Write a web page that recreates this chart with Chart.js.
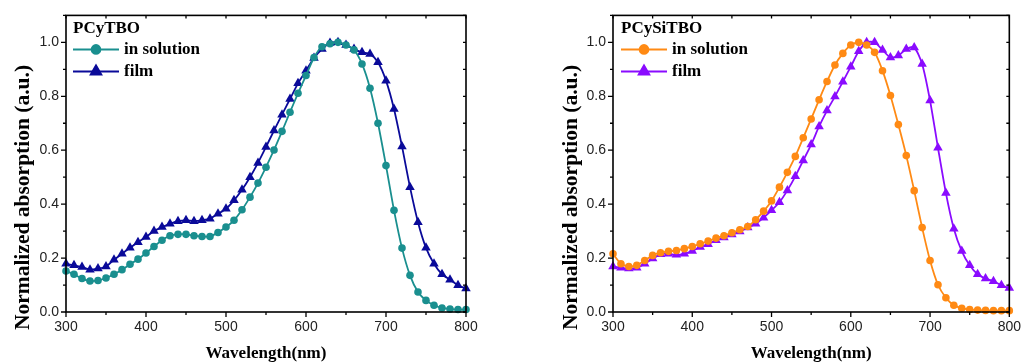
<!DOCTYPE html>
<html>
<head>
<meta charset="utf-8">
<title>Normalized absorption</title>
<script src="https://cdn.jsdelivr.net/npm/chart.js@4/dist/chart.umd.min.js"></script>
<style>
    html, body { margin: 0; padding: 0; background: #ffffff; }
    #wrap { position: relative; width: 1028px; height: 362px; overflow: hidden; }
    #wrap canvas { position: absolute; top: 0; }
    #leftChart { left: 0; }
    #rightChart { left: 514px; }
</style>
</head>
<body>
<div id="wrap">
    <canvas id="leftChart" width="514" height="362"></canvas>
    <canvas id="rightChart" width="514" height="362"></canvas>
</div>
<script>
// Wavelength (nm), one point every 10 nm
const wavelengths = [300, 310, 320, 330, 340, 350, 360, 370, 380, 390,
    400, 410, 420, 430, 440, 450, 460, 470, 480, 490,
    500, 510, 520, 530, 540, 550, 560, 570, 580, 590,
    600, 610, 620, 630, 640, 650, 660, 670, 680, 690,
    700, 710, 720, 730, 740, 750, 760, 770, 780, 790, 800];

// PCyTBO
const pcytboSolution = [0.152, 0.140, 0.124, 0.115, 0.117, 0.126, 0.140, 0.157, 0.177, 0.196,
    0.219, 0.243, 0.266, 0.283, 0.288, 0.288, 0.283, 0.280, 0.280, 0.295,
    0.315, 0.340, 0.379, 0.426, 0.478, 0.537, 0.601, 0.670, 0.741, 0.811,
    0.877, 0.944, 0.984, 0.995, 1.000, 0.990, 0.972, 0.920, 0.830, 0.700,
    0.543, 0.377, 0.237, 0.136, 0.074, 0.043, 0.025, 0.015, 0.011, 0.009, 0.009];
const pcytboFilm = [0.179, 0.173, 0.167, 0.157, 0.161, 0.169, 0.194, 0.216, 0.238, 0.259,
    0.278, 0.300, 0.315, 0.327, 0.337, 0.340, 0.337, 0.340, 0.346, 0.364,
    0.383, 0.414, 0.453, 0.500, 0.553, 0.612, 0.673, 0.732, 0.790, 0.848,
    0.895, 0.942, 0.975, 0.998, 1.000, 0.990, 0.975, 0.963, 0.957, 0.926,
    0.858, 0.753, 0.614, 0.463, 0.333, 0.238, 0.179, 0.140, 0.120, 0.099, 0.087];

// PCySiTBO
const pcysitboSolution = [0.216, 0.179, 0.169, 0.173, 0.191, 0.210, 0.220, 0.225, 0.228, 0.235,
    0.243, 0.253, 0.263, 0.274, 0.283, 0.294, 0.305, 0.317, 0.342, 0.374,
    0.412, 0.463, 0.518, 0.577, 0.646, 0.716, 0.787, 0.855, 0.916, 0.959,
    0.990, 1.000, 0.990, 0.963, 0.895, 0.803, 0.695, 0.580, 0.450, 0.313,
    0.191, 0.101, 0.053, 0.025, 0.014, 0.009, 0.007, 0.006, 0.005, 0.005, 0.005];
const pcysitboFilm = [0.169, 0.164, 0.161, 0.164, 0.179, 0.198, 0.214, 0.216, 0.212, 0.216,
    0.226, 0.241, 0.251, 0.266, 0.276, 0.287, 0.299, 0.313, 0.327, 0.350,
    0.377, 0.407, 0.451, 0.503, 0.562, 0.621, 0.688, 0.747, 0.799, 0.854,
    0.910, 0.967, 1.000, 1.000, 0.972, 0.944, 0.951, 0.975, 0.981, 0.920,
    0.784, 0.609, 0.441, 0.309, 0.226, 0.173, 0.140, 0.124, 0.114, 0.099, 0.089];

const seriesLabels = ['in solution', 'film'];
const xTickValues = [300, 400, 500, 600, 700, 800];
const yTickValues = [0.0, 0.2, 0.4, 0.6, 0.8, 1.0];
const xTitle = 'Wavelength(nm)';
const yTitle = 'Normalized absorption (a.u.)';

const serif = '"Liberation Serif", "Times New Roman", serif';
const sans = '"Liberation Sans", Arial, sans-serif';

function toPoints(ys) {
    return wavelengths.map((x, i) => ({ x: x, y: ys[i] }));
}

// frame, ticks on all four sides, y title and the inset legend
const framePlugin = {
    id: 'frame',
    afterDraw(chart, args, opts) {
        const ctx = chart.ctx;
        const a = chart.chartArea;
        const xs = chart.scales.x;
        const ys = chart.scales.y;
        ctx.save();
        ctx.strokeStyle = '#000';
        ctx.lineWidth = 1.6;
        ctx.strokeRect(a.left, a.top, a.right - a.left, a.bottom - a.top);

        ctx.lineWidth = 1.3;
        ctx.beginPath();
        for (let v = 300; v <= 800; v += 50) {
            const px = xs.getPixelForValue(v);
            const len = (v % 100 === 0) ? 5 : 3;
            ctx.moveTo(px, a.bottom); ctx.lineTo(px, a.bottom + len);
            ctx.moveTo(px, a.top); ctx.lineTo(px, a.top + 3);
        }
        for (let k = 0; k <= 11; k++) {
            const py = ys.getPixelForValue(k / 10);
            const len = (k % 2 === 0 && k <= 10) ? 5 : 3;
            ctx.moveTo(a.left, py); ctx.lineTo(a.left - len, py);
            ctx.moveTo(a.right, py); ctx.lineTo(a.right - 3, py);
        }
        ctx.stroke();

        // y title sits a bit low, as in the original figure
        ctx.fillStyle = '#000';
        ctx.font = 'bold 21.5px ' + serif;
        ctx.textAlign = 'center';
        ctx.textBaseline = 'middle';
        ctx.save();
        ctx.translate(opts.yTitleX, 197.5);
        ctx.rotate(-Math.PI / 2);
        ctx.fillText(yTitle, 0, 0);
        ctx.restore();

        // legend
        const lx = a.left + opts.dx;
        ctx.font = 'bold 17px ' + serif;
        ctx.textAlign = 'left';
        ctx.fillText(opts.title, lx, a.top + 13);
        chart.data.datasets.forEach((ds, i) => {
            const y = a.top + 34 + i * 22;
            ctx.strokeStyle = ds.borderColor;
            ctx.lineWidth = 2;
            ctx.beginPath();
            ctx.moveTo(lx, y);
            ctx.lineTo(lx + 46, y);
            ctx.stroke();
            ctx.fillStyle = ds.borderColor;
            Chart.helpers.drawPoint(ctx, {
                pointStyle: ds.pointStyle, radius: ds.pointRadius + 0.5, rotation: 0, borderWidth: 1
            }, lx + 23, y);
            ctx.fillStyle = '#000';
            ctx.fillText(ds.label, lx + 51, y);
        });
        ctx.restore();
    }
};

function makeChart(canvasId, title, solution, film, colors, layout) {
    const ctx = document.getElementById(canvasId).getContext('2d');
    return new Chart(ctx, {
        type: 'line',
        data: {
            datasets: [
                {
                    label: seriesLabels[0],
                    data: toPoints(solution),
                    borderColor: colors[0],
                    backgroundColor: colors[0],
                    borderWidth: 1.8,
                    pointStyle: 'circle',
                    pointRadius: 3.8,
                    pointBorderWidth: 0,
                    tension: 0.25,
                    clip: false
                },
                {
                    label: seriesLabels[1],
                    data: toPoints(film),
                    borderColor: colors[1],
                    backgroundColor: colors[1],
                    borderWidth: 1.8,
                    pointStyle: 'triangle',
                    pointRadius: 5.5,
                    pointBorderWidth: 0,
                    tension: 0.25,
                    clip: false
                }
            ]
        },
        options: {
            responsive: false,
            animation: false,
            events: [],
            layout: { padding: { top: layout.top, right: layout.right, left: 0, bottom: 0 } },
            plugins: {
                legend: { display: false },
                tooltip: { enabled: false },
                frame: { title: title, dx: layout.legendDx, yTitleX: layout.yTitleX }
            },
            scales: {
                x: {
                    type: 'linear',
                    min: 300,
                    max: 800,
                    afterBuildTicks: s => { s.ticks = xTickValues.map(v => ({ value: v })); },
                    afterFit: s => { s.height = 50; },
                    grid: { display: false, drawTicks: false },
                    border: { display: false },
                    ticks: {
                        padding: 7,
                        color: '#222',
                        font: { family: sans, size: 14 },
                        maxRotation: 0,
                        callback: v => String(v)
                    },
                    title: {
                        display: true,
                        text: xTitle,
                        color: '#000',
                        font: { family: serif, size: 17, weight: 'bold', lineHeight: 1 },
                        padding: { top: 0, bottom: 0 }
                    }
                },
                y: {
                    min: 0,
                    max: 1.1,
                    afterBuildTicks: s => { s.ticks = yTickValues.map(v => ({ value: v })); },
                    afterFit: s => { s.width = layout.left; },
                    grid: { display: false, drawTicks: false },
                    border: { display: false },
                    ticks: {
                        padding: 7,
                        color: '#222',
                        font: { family: sans, size: 14 },
                        callback: v => v.toFixed(1)
                    },
                    title: { display: false }
                }
            }
        },
        plugins: [framePlugin]
    });
}

makeChart('leftChart', 'PCyTBO', pcytboSolution, pcytboFilm, ['#1a8f8f', '#0a0a99'],
    { top: 13, right: 48, left: 66, legendDx: 7, yTitleX: 23 });
makeChart('rightChart', 'PCySiTBO', pcysitboSolution, pcysitboFilm, ['#ff8a14', '#8a0bff'],
    { top: 12, right: 13, left: 99, legendDx: 8, yTitleX: 57.5 });
</script>
</body>
</html>
